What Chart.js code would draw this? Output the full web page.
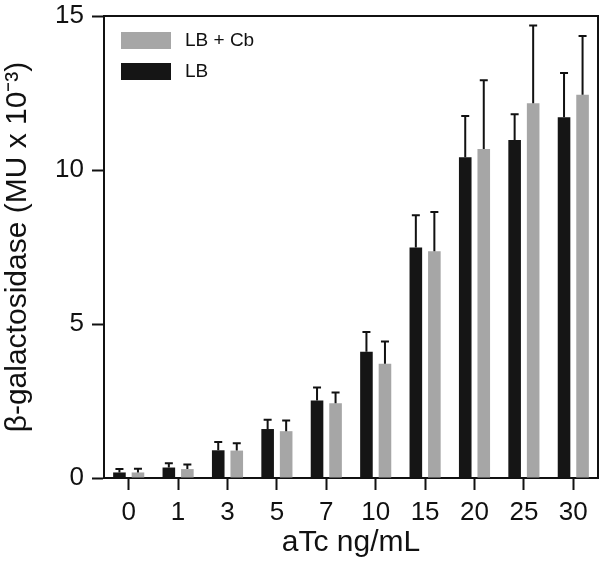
<!DOCTYPE html>
<html lang="en">
<head>
    <meta charset="UTF-8">
    <title>beta-galactosidase</title>
    <script src="https://cdn.jsdelivr.net/npm/chart.js"></script>
    <style>
        body { margin: 0; background: #fff; }
        #box { width: 600px; height: 561px; }
    </style>
</head>
<body>
    <div id="box"><canvas id="grafico"></canvas></div>

<script>
    // valores (MU x 10^-3)
    var doses = ['0', '1', '3', '5', '7', '10', '15', '20', '25', '30'];
    var lb = [0.18, 0.34, 0.90, 1.59, 2.52, 4.10, 7.48, 10.41, 10.97, 11.71];
    var lbErro = [0.11, 0.14, 0.27, 0.30, 0.42, 0.64, 1.05, 1.34, 0.84, 1.44];
    var lbCb = [0.18, 0.29, 0.89, 1.52, 2.43, 3.71, 7.36, 10.68, 12.17, 12.44];
    var lbCbErro = [0.12, 0.15, 0.24, 0.35, 0.35, 0.72, 1.28, 2.23, 2.52, 1.91];
    var yTicks = [0, 5, 10, 15];

    var fonte = '"Liberation Sans", Arial, sans-serif';

    // barras de erro só para cima
    var barrasErro = {
        id: 'barrasErro',
        afterDatasetsDraw(chart) {
            var ctx = chart.ctx;
            var y = chart.scales.y;
            ctx.save();
            ctx.strokeStyle = '#111';
            ctx.lineWidth = 2;
            chart.data.datasets.forEach(function (ds, i) {
                var meta = chart.getDatasetMeta(i);
                meta.data.forEach(function (bar, j) {
                    var topo = y.getPixelForValue(ds.data[j] + ds.erro[j]);
                    ctx.beginPath();
                    ctx.moveTo(bar.x, bar.y);
                    ctx.lineTo(bar.x, topo);
                    ctx.moveTo(bar.x - 4, topo);
                    ctx.lineTo(bar.x + 4, topo);
                    ctx.stroke();
                });
            });
            ctx.restore();
        }
    };

    // moldura de cima e da direita
    var moldura = {
        id: 'moldura',
        afterDraw(chart) {
            var a = chart.chartArea;
            var ctx = chart.ctx;
            ctx.save();
            ctx.strokeStyle = '#111';
            ctx.lineWidth = 2;
            ctx.beginPath();
            ctx.moveTo(a.left, a.top);
            ctx.lineTo(a.right, a.top);
            ctx.lineTo(a.right, a.bottom);
            ctx.stroke();
            ctx.restore();
        }
    };

    // legenda dentro do gráfico, LB + Cb em cima
    var legenda = {
        id: 'legenda',
        afterDraw(chart) {
            var a = chart.chartArea;
            var ctx = chart.ctx;
            var ds = chart.data.datasets.slice().reverse();
            ctx.save();
            ctx.font = '19px ' + fonte;
            ctx.textBaseline = 'middle';
            ds.forEach(function (d, i) {
                var yy = a.top + 16 + i * 31;
                ctx.fillStyle = d.backgroundColor;
                ctx.fillRect(a.left + 17, yy, 50, 17);
                ctx.fillStyle = '#111';
                ctx.fillText(d.label, a.left + 81, yy + 9);
            });
            ctx.restore();
        }
    };

    new Chart(document.getElementById('grafico'), {
        type: 'bar',
        data: {
            labels: doses,
            datasets: [{
                label: 'LB',
                data: lb,
                erro: lbErro,
                backgroundColor: '#151515'
            }, {
                label: 'LB + Cb',
                data: lbCb,
                erro: lbCbErro,
                backgroundColor: '#a6a6a6'
            }]
        },
        options: {
            responsive: true,
            maintainAspectRatio: false,
            animation: false,
            categoryPercentage: 0.75,
            barPercentage: 0.68,
            layout: { padding: { top: 16, right: 2, left: 0, bottom: 0 } },
            plugins: {
                legend: { display: false },
                tooltip: { enabled: false }
            },
            scales: {
                x: {
                    afterFit: function (s) { s.height = 83; },
                    grid: { display: true, drawOnChartArea: false, offset: false, tickLength: 12, tickWidth: 2, tickColor: '#111' },
                    border: { display: true, color: '#111', width: 2 },
                    ticks: { color: '#111', padding: 7, font: { size: 26, family: fonte } },
                    title: { display: true, text: 'aTc ng/mL', color: '#111', padding: 0, font: { size: 30, family: fonte } }
                },
                y: {
                    min: 0,
                    max: 15,
                    afterFit: function (s) { s.width = 104; s.paddingTop = 0; s.paddingBottom = 0; },
                    afterBuildTicks: function (s) { s.ticks = yTicks.map(function (v) { return { value: v }; }); },
                    grid: { display: true, drawOnChartArea: false, tickLength: 12, tickWidth: 2, tickColor: '#111' },
                    border: { display: true, color: '#111', width: 2 },
                    ticks: { color: '#111', padding: 8, font: { size: 26, family: fonte } },
                    title: { display: true, text: 'β-galactosidase (MU x 10⁻³)', color: '#111', padding: 0, font: { size: 30, family: fonte } }
                }
            }
        },
        plugins: [barrasErro, moldura, legenda]
    });
</script>
</body>
</html>
